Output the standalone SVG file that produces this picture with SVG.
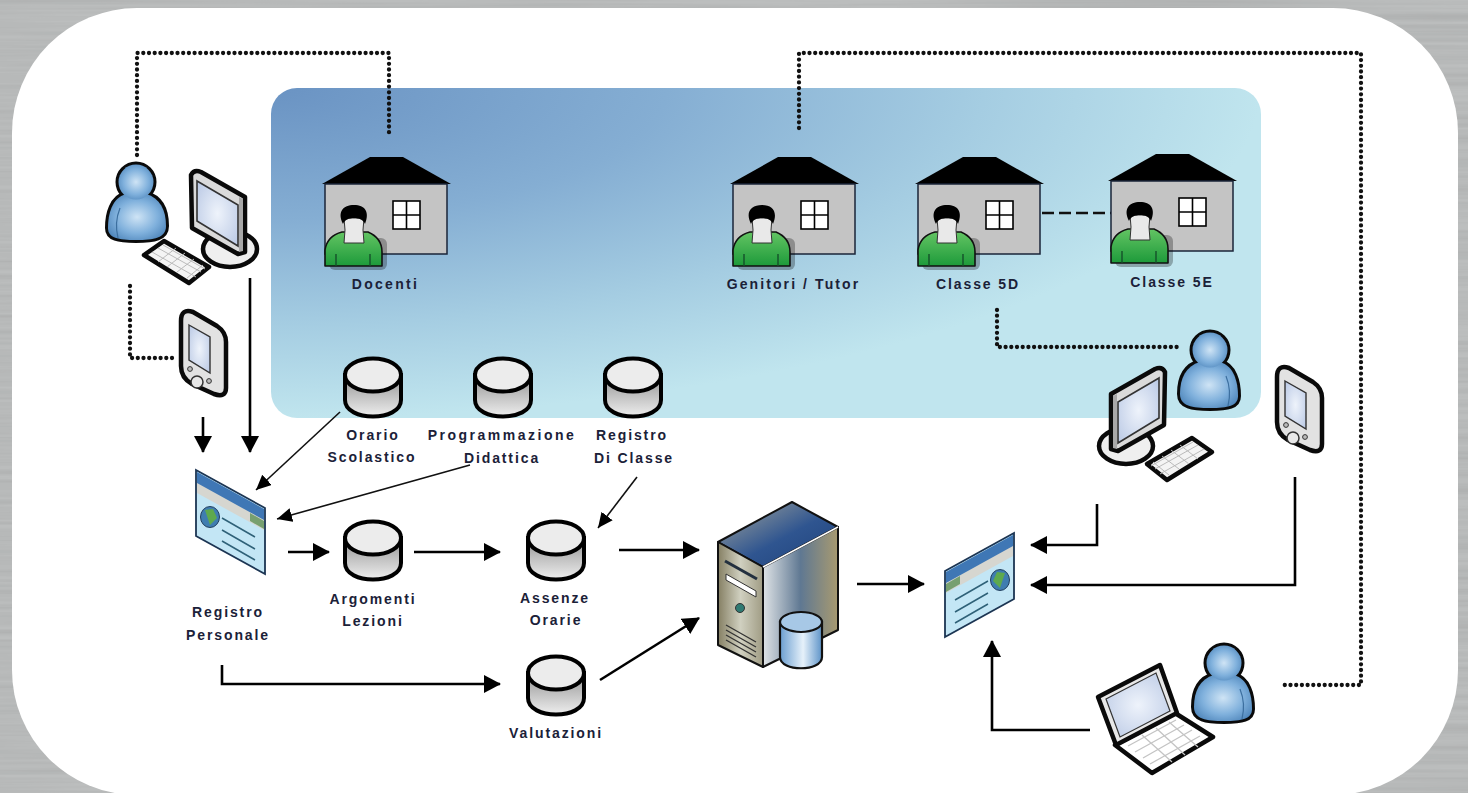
<svg xmlns="http://www.w3.org/2000/svg" width="1468" height="793" viewBox="0 0 1468 793">
<style>
text{font-family:"Liberation Sans",Arial,sans-serif;font-weight:700;font-size:14px;letter-spacing:1.9px;fill:#1b2138;text-anchor:middle}
.dot{fill:none;stroke:#111;stroke-width:4.3;stroke-linecap:round;stroke-linejoin:round;stroke-dasharray:0 5.7}
.dash{fill:none;stroke:#111;stroke-width:2.6;stroke-dasharray:12 5}
.arr{fill:none;stroke:#000;stroke-width:2.6;marker-end:url(#big)}
.thin{fill:none;stroke:#111;stroke-width:1.6;marker-end:url(#small)}
.o{stroke:#0a0a0a;stroke-width:4.5;stroke-linejoin:round}
.o2{stroke:#111;stroke-width:1.6;stroke-linejoin:round}
</style>
<defs>
<filter id="brushed" x="0" y="0" width="100%" height="100%">
<feTurbulence type="fractalNoise" baseFrequency="0.003 0.2" numOctaves="3" seed="4"/>
<feColorMatrix values="0 0 0 0 .42  0 0 0 0 .43  0 0 0 0 .43  1.5 0 0 0 -0.4"/>
<feComposite in2="SourceGraphic" operator="over"/>
</filter>
<radialGradient id="panel" cx="0" cy="0" r="1" fx="0" fy="0"><stop offset="0" stop-color="#6a93c3"/><stop offset=".4" stop-color="#85aed3"/><stop offset=".72" stop-color="#a5cde2"/><stop offset="1" stop-color="#c0e5ee"/></radialGradient>
<radialGradient id="blue" cx=".5" cy=".5" r=".6"><stop offset="0" stop-color="#cfe4f5"/><stop offset=".6" stop-color="#7fb0dc"/><stop offset="1" stop-color="#4f86bb"/></radialGradient>
<radialGradient id="scr" cx=".5" cy=".5" r=".7"><stop offset="0" stop-color="#eef3fb"/><stop offset="1" stop-color="#b9c8e4"/></radialGradient>
<linearGradient id="cyl" x1="0" y1="0" x2="0" y2="1"><stop offset="0" stop-color="#8f8f8f"/><stop offset=".45" stop-color="#bdbdbd"/><stop offset="1" stop-color="#eeeeee"/></linearGradient>
<linearGradient id="green" x1="0" y1="0" x2="0" y2="1"><stop offset="0" stop-color="#63c463"/><stop offset="1" stop-color="#1d9a3a"/></linearGradient>
<linearGradient id="srvTop" x1="0" y1="0" x2="1" y2="1"><stop offset="0" stop-color="#a8a99d"/><stop offset=".55" stop-color="#2f5590"/><stop offset="1" stop-color="#1e4179"/></linearGradient>
<linearGradient id="srvR" x1="0" y1="0" x2="1" y2="0"><stop offset="0" stop-color="#dfe3e6"/><stop offset=".5" stop-color="#5f7892"/><stop offset="1" stop-color="#a89a70"/></linearGradient>
<linearGradient id="srvL" x1="0" y1="0" x2="1" y2="0"><stop offset="0" stop-color="#857f63"/><stop offset=".5" stop-color="#d0d0c0"/><stop offset="1" stop-color="#a09c84"/></linearGradient>
<linearGradient id="srvC" x1="0" y1="0" x2="1" y2="0"><stop offset="0" stop-color="#6b9ed0"/><stop offset=".55" stop-color="#e6f1fa"/><stop offset="1" stop-color="#5d93c8"/></linearGradient>
<marker id="big" markerUnits="userSpaceOnUse" markerWidth="20" markerHeight="20" refX="16" refY="9" orient="auto"><path d="M0,0 L17,9 L0,18Z" fill="#000"/></marker>
<marker id="small" markerUnits="userSpaceOnUse" markerWidth="18" markerHeight="18" refX="15" refY="7" orient="auto"><path d="M0,0 L15,7 L0,14Z" fill="#000"/></marker>

<g id="person">
<g stroke="#0a0a0a" stroke-width="6" stroke-linejoin="round" fill="#0a0a0a">
<path d="M126,194 C112,198 108,214 108,228 C108,238 118,240 136,240 C154,240 166,238 166,226 C166,210 160,198 146,194Z"/>
<ellipse cx="136" cy="182" rx="17.5" ry="17.5"/>
</g>
<path fill="url(#blue)" d="M126,194 C112,198 108,214 108,228 C108,238 118,240 136,240 C154,240 166,238 166,226 C166,210 160,198 146,194Z"/>
<ellipse cx="136" cy="182" rx="17.5" ry="17.5" fill="url(#blue)"/>
<path d="M120,208 C116,218 116,230 118,238" fill="none" stroke="#3c6f9f" stroke-width="1.2"/>
</g>

<g id="pc">
<ellipse class="o" cx="230" cy="249" rx="27" ry="18" fill="#efefef"/>
<path class="o" fill="#dadada" d="M191,175 Q194,169 201,172 L245,197 L245,252 L238,254 L192,228Z"/>
<path fill="#a8a8a8" d="M239,197 L243,199 L243,251 L239,252Z"/>
<path fill="url(#scr)" stroke="#333" stroke-width="1.6" d="M197,181 L238,205 L238,246 L197,221Z"/>
<path class="o" fill="#f4f4f4" d="M144,255 L164,241 L209,267 L189,283Z" stroke-width="3.8"/>
<path fill="none" stroke="#bbb" stroke-width="1" d="M152,252 L196,277 M158,248 L201,272 M163,245 L205,269 M158,262 L176,248 M167,267 L185,253 M177,272 L194,259 M187,278 L203,265"/>
</g>

<g id="pda">
<path class="o" fill="#e2e2e2" d="M181,321 Q181,308 193,312 L217,326 Q226,332 226,342 L226,388 Q226,398 214,394 L192,384 Q181,378 181,366Z"/>
<path fill="url(#scr)" stroke="#333" stroke-width="1.4" d="M189,325 L210,337 L210,373 L189,360Z"/>
<circle cx="197" cy="382" r="6" fill="#e8e8e8" stroke="#333" stroke-width="1.5"/>
<circle cx="190" cy="369" r="2.4" fill="#bbb" stroke="#333"/>
<circle cx="209" cy="381" r="2.4" fill="#bbb" stroke="#333"/>
</g>

<g id="house">
<path d="M370,157 L403,157 L451,184 L322,184Z" fill="#000"/>
<rect x="325" y="184" width="122" height="70" fill="#c4c4c4" stroke="#1a2438" stroke-width="1.5"/>
<g fill="#fff" stroke="#000" stroke-width="1.6"><rect x="393" y="201" width="27" height="28"/><path d="M406.5,201V229M393,215H420"/></g>
<rect x="329" y="238" width="58" height="32" fill="#000" opacity=".28" rx="6"/>
<path class="o2" fill="url(#green)" d="M325,266 L325,250 Q327,236 342,232 L368,232 Q382,238 382,252 L382,266Z"/>
<path stroke="#14502a" stroke-width="1.4" d="M336,254V266M370,254V266"/>
<path fill="#e9e9e9" stroke="#333" stroke-width="1" d="M344,218 L364,218 L363,230 L364,243 L344,243 L345,230Z"/>
<path fill="#000" d="M343,224 C337,212 343,205 354,205 C365,205 370,212 365,224 C362,216 346,216 343,224Z"/>
</g>

<g id="db">
<path fill="url(#cyl)" stroke="#000" stroke-width="4" d="M345,375 L345,400 C345,422 401,422 401,400 L401,375Z"/>
<ellipse cx="373" cy="375" rx="28" ry="16.5" fill="#ececec" stroke="#000" stroke-width="4"/>
</g>

<g id="browser">
<path d="M196,470 L265,508 L265,574 L196,536Z" fill="#c3e6f5" stroke="#1c3553" stroke-width="1.8"/>
<path d="M197,472 L264,509 L264,522 L197,485Z" fill="#3f77b5"/>
<path d="M197,483 L264,520 L264,530 L197,493Z" fill="#d6d6d0"/>
<path d="M250,513 L264,521 L264,529 L250,521Z" fill="#77a070"/>
<ellipse cx="210" cy="517" rx="9.5" ry="10.5" fill="#3f7db0" stroke="#23405f"/>
<path d="M205,510 L213,509 L217,518 L210,525Z" fill="#5ea94e"/>
<path d="M222,518 L255,537 M222,530 L255,549 M222,541 L255,560" stroke="#2f6178" stroke-width="1.5" fill="none"/>
</g>
</defs>

<rect width="1468" height="793" fill="#bcbebe"/>
<rect width="1468" height="793" fill="#bcbebe" filter="url(#brushed)"/>
<rect x="12" y="8" width="1446" height="787" rx="125" fill="#fff"/>
<rect x="271" y="88" width="990" height="330" rx="26" fill="url(#panel)"/>

<g id="connectors">
<path class="dot" d="M137,155V53H389V135"/>
<path class="dot" d="M799,128V53H1361V685H1280"/>
<path class="dot" d="M130,286V358H172"/>
<path class="dot" d="M997,310V347H1178"/>
<path class="dash" d="M1042,213H1112"/>
<path class="arr" d="M203,417V452"/>
<path class="arr" d="M250,278V452"/>
<path class="thin" d="M340,412L256,490"/>
<path class="thin" d="M470,465L277,519"/>
<path class="thin" d="M637,477L598,528"/>
<path class="arr" d="M288,552H329"/>
<path class="arr" d="M414,552H500"/>
<path class="arr" d="M619,550H699"/>
<path class="arr" d="M600,680L699,618"/>
<path class="arr" d="M222,665V684H500"/>
<path class="arr" d="M857,584H924"/>
<path class="arr" d="M1097,504V545H1031"/>
<path class="arr" d="M1295,477V585H1031"/>
<path class="arr" d="M1090,730H992V641"/>
</g>

<g id="user-docente"><use href="#person"/><use href="#pc"/><use href="#pda"/></g>
<g id="docenti"><use href="#house"/><text x="385.5" y="289" style="letter-spacing:2.3px">Docenti</text></g>
<g id="genitori"><use href="#house" x="408"/><text x="793.5" y="289" style="letter-spacing:2.1px">Genitori / Tutor</text></g>
<g id="classe5d"><use href="#house" x="593"/><text x="978" y="289">Classe 5D</text></g>
<g id="classe5e"><use href="#house" x="786" y="-3"/><text x="1172" y="287">Classe 5E</text></g>

<g id="orario"><use href="#db"/><text x="373" y="440">Orario</text><text x="372" y="462">Scolastico</text></g>
<g id="programmazione"><use href="#db" x="130"/><text x="502" y="440" style="letter-spacing:2.5px">Programmazione</text><text x="502" y="463">Didattica</text></g>
<g id="registro-classe"><use href="#db" x="260"/><text x="632" y="440">Registro</text><text x="634" y="463">Di Classe</text></g>
<g id="registro-personale"><use href="#browser"/><text x="228" y="617">Registro</text><text x="228" y="640">Personale</text></g>
<g id="argomenti"><use href="#db" y="163"/><text x="373" y="604">Argomenti</text><text x="373" y="626">Lezioni</text></g>
<g id="assenze"><use href="#db" x="183" y="163"/><text x="555" y="603">Assenze</text><text x="556" y="625">Orarie</text></g>
<g id="valutazioni"><use href="#db" x="183" y="298"/><text x="556" y="738">Valutazioni</text></g>

<g id="server">
<path d="M718,542 L792,502 L838,527 L763,567Z" fill="url(#srvTop)" stroke="#111" stroke-width="2" stroke-linejoin="round"/>
<path d="M763,567 L838,527 L838,630 L763,667Z" fill="url(#srvR)" stroke="#111" stroke-width="2" stroke-linejoin="round"/>
<path d="M718,542 L763,567 L763,667 L718,645Z" fill="url(#srvL)" stroke="#111" stroke-width="2" stroke-linejoin="round"/>
<path d="M763,567 L838,527" stroke="#fff" stroke-width="1.5"/>
<path d="M725,561 L757,579" stroke="#23303f" stroke-width="3"/>
<path d="M726,574 L756,591 L756,597 L726,580Z" fill="#fff" stroke="#333"/>
<circle cx="740" cy="608" r="4.5" fill="#2f7a72" stroke="#333"/>
<path d="M726,625 L756,642 M726,630 L756,647 M726,635 L756,652 M726,640 L756,657" stroke="#333" stroke-width="1.3"/>
<path d="M780,622 L780,657 C780,672 822,672 822,657 L822,622Z" fill="url(#srvC)" stroke="#111" stroke-width="2.2"/>
<ellipse cx="801" cy="622" rx="21" ry="10" fill="#a7c8e6" stroke="#111" stroke-width="2.2"/>
</g>

<g id="registro-web"><use href="#browser" transform="translate(1210,63) scale(-1,1)"/></g>

<g id="user-classe"><use href="#person" transform="translate(1346,168) scale(-1,1)"/><use href="#pc" transform="translate(1356,197) scale(-1,1)"/></g>
<g id="pda-classe"><use href="#pda" x="1096" y="56"/></g>
<g id="user-laptop">
<use href="#person" transform="translate(1360,481) scale(-1,1)"/>
<path class="o" fill="#fff" d="M1115,745 L1175,713 L1213,737 L1152,773Z" stroke-width="3.8"/>
<path class="o" fill="#e8e8e8" d="M1098,697 L1160,665 L1177,713 L1116,745Z" stroke-width="3.8"/>
<path fill="url(#scr)" stroke="#333" stroke-width="1.2" d="M1106,699 L1156,673 L1170,711 L1120,737Z"/>
<path fill="none" stroke="#c4c4c4" stroke-width="1.3" d="M1128,746 L1176,720 M1135,752 L1184,725 M1143,758 L1192,730 M1150,764 L1200,736 M1142,735 L1172,762 M1156,728 L1185,755 M1169,722 L1198,747"/>
</g>
</svg>
